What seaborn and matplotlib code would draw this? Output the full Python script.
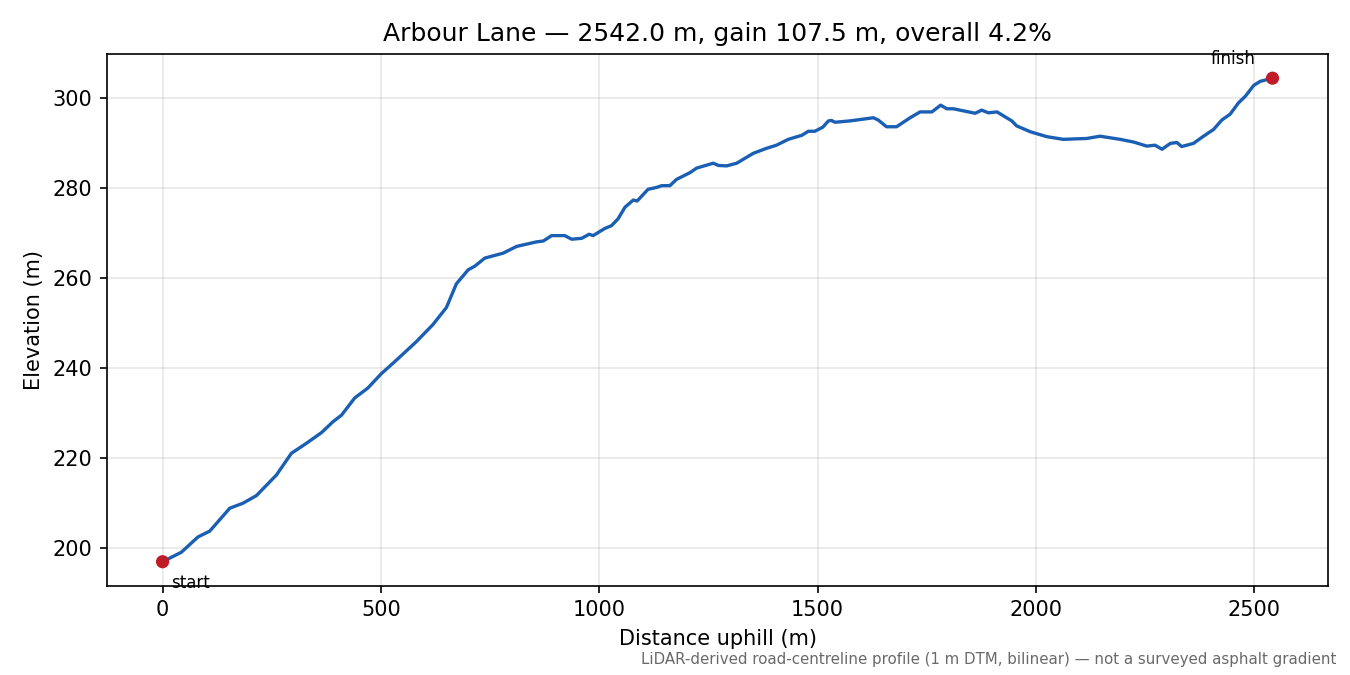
import numpy as np
import pandas as pd
import matplotlib
matplotlib.use("Agg")
import matplotlib.pyplot as plt
import seaborn as sns

# Elevation profile (distance m, elevation m)
distance = [0, 43, 81, 108, 154, 184, 215, 261, 295, 329, 364, 390, 410, 440,
            470, 501, 532, 581, 619, 650, 673, 700, 715, 738, 780, 811, 856,
            872, 891, 921, 937, 960, 977, 986, 1013, 1028, 1043, 1059, 1078,
            1087, 1112, 1131, 1143, 1162, 1177, 1208, 1223, 1261, 1273, 1292,
            1315, 1353, 1383, 1406, 1433, 1464, 1479, 1494, 1512, 1525, 1532,
            1540, 1574, 1628, 1639, 1658, 1681, 1712, 1735, 1762, 1782, 1796,
            1811, 1861, 1876, 1891, 1911, 1945, 1956, 1987, 2025, 2063, 2117,
            2147, 2193, 2224, 2254, 2273, 2289, 2308, 2323, 2334, 2361, 2384,
            2407, 2426, 2445, 2464, 2480, 2499, 2514, 2542]
elevation = [197.0, 199.1, 202.5, 203.8, 208.9, 210.0, 211.7, 216.3, 221.1,
             223.3, 225.7, 228.1, 229.6, 233.4, 235.6, 238.8, 241.5, 245.9,
             249.7, 253.5, 258.8, 261.9, 262.7, 264.5, 265.6, 267.1, 268.1,
             268.3, 269.5, 269.5, 268.7, 268.9, 269.8, 269.5, 271.1, 271.7,
             273.2, 275.8, 277.4, 277.2, 279.8, 280.2, 280.6, 280.6, 282.0,
             283.5, 284.5, 285.6, 285.1, 285.0, 285.6, 287.8, 288.9, 289.6,
             290.9, 291.8, 292.7, 292.7, 293.6, 295.0, 295.1, 294.7, 295.0,
             295.7, 295.2, 293.7, 293.7, 295.7, 297.0, 297.0, 298.5, 297.7,
             297.7, 296.7, 297.4, 296.8, 297.0, 295.0, 293.9, 292.6, 291.5,
             290.9, 291.1, 291.6, 290.9, 290.3, 289.4, 289.6, 288.7, 290.0,
             290.2, 289.3, 290.0, 291.6, 293.1, 295.2, 296.5, 299.0, 300.5,
             302.9, 303.8, 304.5]

road_name = "Arbour Lane"
footer = ("LiDAR-derived road-centreline profile (1 m DTM, bilinear) "
          "\u2014 not a surveyed asphalt gradient")

df = pd.DataFrame({"distance": distance, "elevation": elevation})
total = df["distance"].iloc[-1]
gain = df["elevation"].iloc[-1] - df["elevation"].iloc[0]
grade = gain / total * 100

fig, ax = plt.subplots(figsize=(9, 4.5), dpi=150)
fig.subplots_adjust(left=0.0793, right=0.9837, top=0.92, bottom=0.132)

sns.lineplot(data=df, x="distance", y="elevation", ax=ax,
             color="#1a5fb4", linewidth=1.6)
ends = df.iloc[[0, -1]]
sns.scatterplot(data=ends, x="distance", y="elevation", ax=ax,
                color="#c01c28", s=40, edgecolor="none", zorder=3)

ax.annotate("start", (ends["distance"].iloc[0], ends["elevation"].iloc[0]),
            xytext=(4, -6), textcoords="offset points",
            ha="left", va="top", fontsize=8)
ax.annotate("finish", (ends["distance"].iloc[1], ends["elevation"].iloc[1]),
            xytext=(-8, 5), textcoords="offset points",
            ha="right", va="bottom", fontsize=8)

ax.set_title(f"{road_name} \u2014 {total:.1f} m, gain {gain:.1f} m, "
             f"overall {grade:.1f}%", fontsize=12)
ax.set_xlabel("Distance uphill (m)")
ax.set_ylabel("Elevation (m)")
ax.grid(True, alpha=0.3)

fig.text(0.99, 0.012, footer, ha="right", va="bottom",
         fontsize=7.2, color="dimgray")
fig.savefig("out.png", dpi=150)
